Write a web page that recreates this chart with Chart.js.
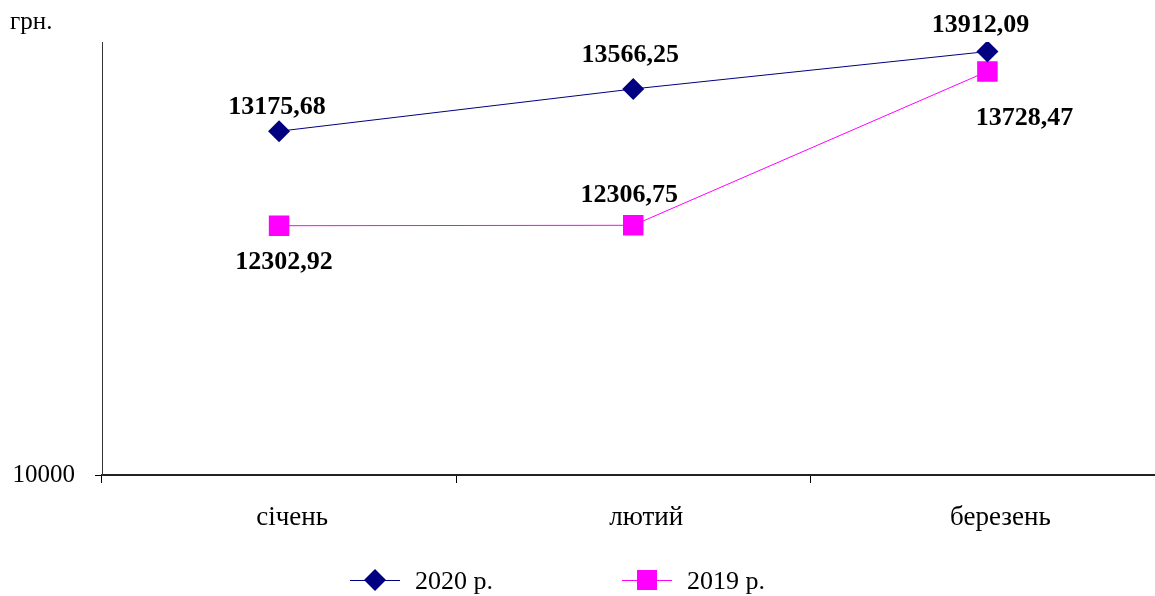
<!DOCTYPE html>
<html><head><meta charset="utf-8">
<script src="https://cdn.jsdelivr.net/npm/chart.js@4.4.1/dist/chart.umd.min.js"></script>
<style>
html,body{margin:0;padding:0;overflow:hidden;background:#fff;width:1155px;height:596px}
#wrap{position:absolute;left:0;top:0;width:1179px;height:596px}
</style>
</head><body><div id="wrap"><canvas id="c"></canvas></div>
<script>
const categories = ['січень', 'лютий', 'березень'];
const series2020 = [13175.68, 13566.25, 13912.09];
const series2019 = [12302.92, 12306.75, 13728.47];
const seriesNames = ['2020 р.', '2019 р.'];
const yTickValues = [10000];
const yMin = 10000, yMax = 14000;
const yUnit = 'грн.';

const SERIF = "'Liberation Serif', 'Times New Roman', serif";
const colors = ['#000080', '#FF00FF'];
const labelOffsets = [
  [[-2, -24], [-3, -34], [-7, -26]],
  [[5, 37], [-4, -30], [37, 47]]
];
const fmt = v => v.toFixed(2).replace('.', ',');

const overlay = {
  id: 'overlay',
  afterDatasetsDraw(chart) {
    const ctx = chart.ctx;
    ctx.save();
    ctx.font = "bold 26px " + SERIF;
    ctx.fillStyle = '#000';
    ctx.textAlign = 'center';
    ctx.textBaseline = 'middle';
    chart.data.datasets.forEach((ds, i) => {
      chart.getDatasetMeta(i).data.forEach((pt, j) => {
        const [dx, dy] = labelOffsets[i][j];
        ctx.fillText(fmt(ds.data[j]), pt.x + dx, pt.y + dy);
      });
    });
    // unit label
    ctx.font = "25px " + SERIF;
    ctx.textAlign = 'left';
    ctx.fillText(yUnit, 10, 22);
    // legend
    const items = [{x: 350, style: 'diamond'}, {x: 622, style: 'square'}];
    const ly = 580;
    items.forEach((it, i) => {
      ctx.strokeStyle = colors[i];
      ctx.fillStyle = colors[i];
      ctx.lineWidth = 1;
      ctx.beginPath();
      ctx.moveTo(it.x, ly + 0.5);
      ctx.lineTo(it.x + 50, ly + 0.5);
      ctx.stroke();
      const cx = it.x + 25;
      ctx.beginPath();
      if (it.style === 'diamond') {
        ctx.moveTo(cx, ly - 11); ctx.lineTo(cx + 11, ly); ctx.lineTo(cx, ly + 11); ctx.lineTo(cx - 11, ly);
        ctx.closePath();
      } else {
        ctx.rect(cx - 10, ly - 10, 20, 20);
      }
      ctx.fill();
      ctx.fillStyle = '#000';
      ctx.font = "26px " + SERIF;
      ctx.textAlign = 'left';
      ctx.textBaseline = 'middle';
      ctx.fillText(seriesNames[i], it.x + 65, ly + 2);
    });
    ctx.restore();
  }
};

new Chart(document.getElementById('c'), {
  type: 'line',
  data: {
    labels: categories,
    datasets: [
      {
        label: seriesNames[0], data: series2020,
        borderColor: colors[0], backgroundColor: colors[0], borderWidth: 1,
        pointStyle: 'rectRot', pointRadius: 11, pointBorderWidth: 0, tension: 0, fill: false
      },
      {
        label: seriesNames[1], data: series2019,
        borderColor: colors[1], backgroundColor: colors[1], borderWidth: 1,
        pointStyle: 'rect', pointRadius: 14.5, pointBorderWidth: 0, tension: 0, fill: false
      }
    ]
  },
  options: {
    responsive: true,
    maintainAspectRatio: false,
    animation: false,
    layout: {padding: {top: 42, left: 0, right: 0, bottom: 0}},
    plugins: {legend: {display: false}, tooltip: {enabled: false}},
    scales: {
      x: {
        type: 'category',
        offset: true,
        grid: {offset: true, drawOnChartArea: false, drawTicks: true, tickLength: 8, color: '#000', lineWidth: 1},
        border: {display: true, color: '#222', width: 2},
        ticks: {color: '#000', font: {family: SERIF, size: 27}, padding: 19, maxRotation: 0, labelOffset: 13},
        afterFit(scale) { scale.height = 121; }
      },
      y: {
        min: yMin, max: yMax,
        afterBuildTicks(scale) { scale.ticks = yTickValues.map(v => ({value: v})); },
        grid: {drawOnChartArea: false, drawTicks: true, tickLength: 7, color: '#000', lineWidth: 1},
        border: {display: true, color: '#333', width: 1},
        ticks: {color: '#000', font: {family: SERIF, size: 25}, padding: 20, callback: v => String(v)},
        afterFit(scale) { scale.width = 102; }
      }
    }
  },
  plugins: [overlay]
});
</script>
</body></html>
